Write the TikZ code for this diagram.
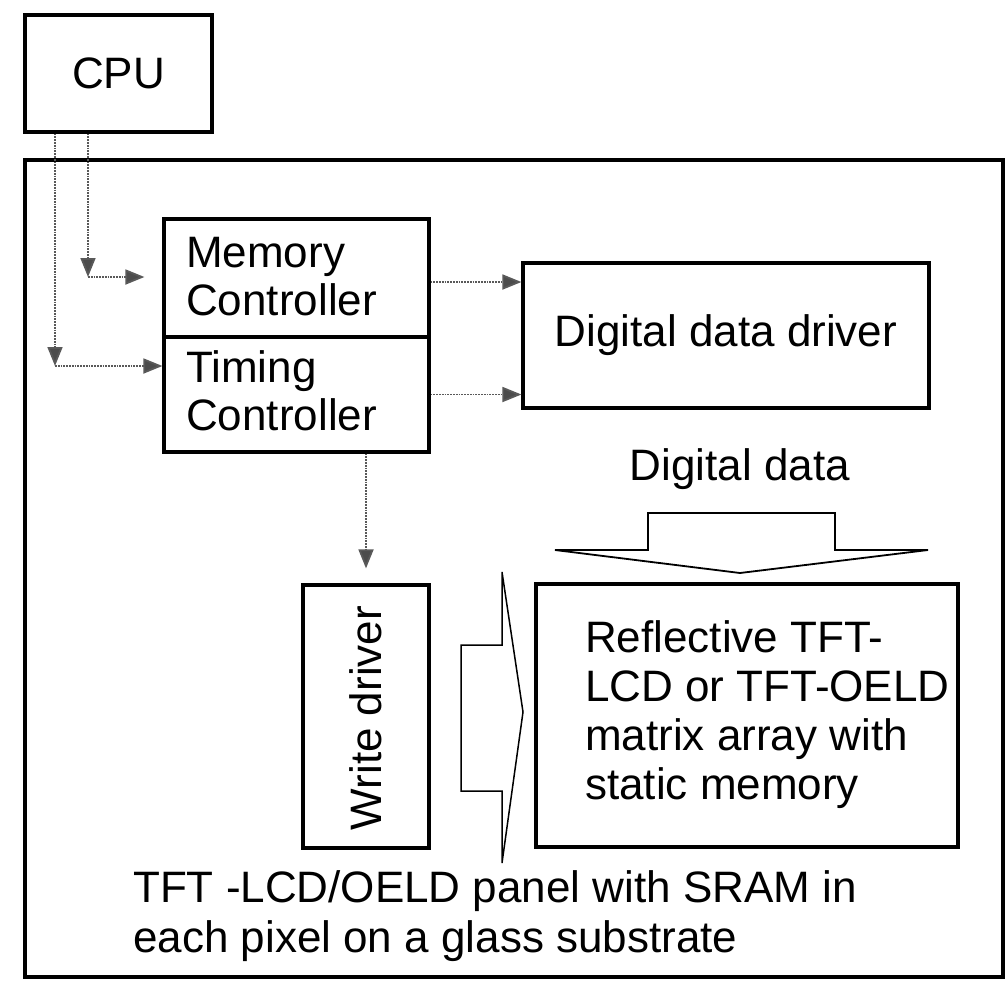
\documentclass[tikz,border=0pt]{standalone}
\usepackage{fontspec}
\setmainfont{Liberation Sans}
\usetikzlibrary{arrows.meta,calc}
\begin{document}
\begin{tikzpicture}[x=1pt,y=-1pt,
  box/.style={draw,line width=3.2pt,inner sep=0pt,rectangle},
  txt/.style={inner sep=0pt,align=left,font=\fontsize{44}{48}\selectfont},
  conn/.style={draw=black!65,line width=1.8pt,densely dotted,-{Triangle[length=19pt,width=15pt,fill=black!70]}},
  fat/.style={draw,line width=1.8pt,line join=miter}]
\useasboundingbox (0,0) rectangle (1008,982);
% boxes
\node[box,minimum width=187,minimum height=117,font=\fontsize{44}{48}\selectfont] (cpu) at (118.5,73.5) {CPU};
\node[box,minimum width=978,minimum height=817] (panel) at (514,568.5) {};
\node[box,minimum width=265,minimum height=118] (mc) at (296.5,278) {};
\node[box,minimum width=265,minimum height=115] (tc) at (296.5,394.5) {};
\node[box,minimum width=406,minimum height=145,font=\fontsize{44}{48}\selectfont] (dd) at (726,335.5) {Digital data driver};
\node[box,minimum width=422,minimum height=263] (ra) at (747,715.5) {};
\node[box,minimum width=126,minimum height=263] (wd) at (366,716.5) {};
% texts
\node[txt,anchor=west] (mct) at (186,277) {Memory\\Controller};
\node[txt,anchor=west] (tct) at (186,391) {Timing\\Controller};
\node[txt,anchor=west,font=\fontsize{44}{49}\selectfont] (rat) at (585,715) {Reflective TFT-\\LCD or TFT-OELD\\matrix array with\\static memory};
\node[txt,rotate=90] (wdt) at (366,718) {Write driver};
\node[txt] (ddl) at (740,469) {Digital data};
\node[txt,anchor=west,font=\fontsize{44}{50}\selectfont] (pnl) at (133,916) {TFT -LCD/OELD panel with SRAM in\\each pixel on a glass substrate};
% connectors
\coordinate (ca) at (55,366);
\coordinate (cb) at (88,277);
\draw[conn] (cpu.south -| ca) -- (ca);
\draw[conn] (ca) -- (ca -| tc.west);
\draw[conn] (cpu.south -| cb) -- (cb);
\draw[conn,shorten >=18pt] (cb) -- (cb -| mc.west);
\draw[conn] ($(mc.east)+(0,4)$) -- ($(mc.east -| dd.west)+(0,4)$);
\draw[conn] (tc.east) -- (tc.east -| dd.west);
\draw[conn,shorten >=15pt] (tc.south -| wd.north) -- (wd.north);
% fat arrows
\draw[fat,line width=1.5pt] (461,645) -- (502,645) -- (502,572) -- (523,712) -- (502,863) -- (502,791) -- (461,791) -- cycle;
\draw[fat] (648,550) -- (648,513) -- (835,513) -- (835,550) -- (928,550) -- (740,573) -- (555,550) -- cycle;
\end{tikzpicture}
\end{document}
